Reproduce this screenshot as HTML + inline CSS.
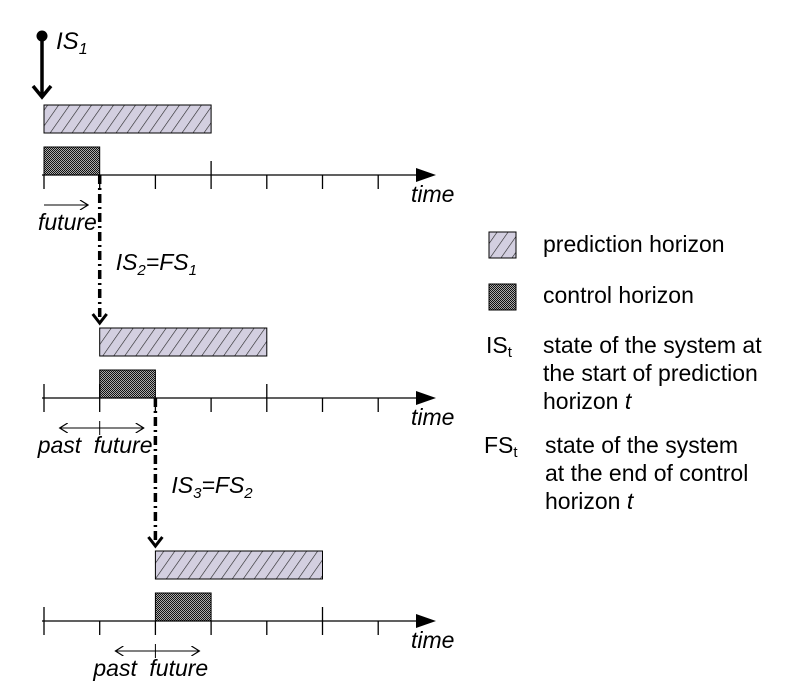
<!DOCTYPE html>
<html><head><meta charset="utf-8"><style>
body{margin:0;background:#fff}
svg{display:block;font-family:"Liberation Sans",sans-serif}
</style></head><body>
<svg width="801" height="697" viewBox="0 0 801 697">
<defs>
<pattern id="hatch" width="9" height="9" patternUnits="userSpaceOnUse" patternTransform="rotate(35)">
<rect width="9" height="9" fill="#d3cfe0"/><line x1="0" y1="0" x2="0" y2="9" stroke="#222" stroke-width="1.2"/>
</pattern>
<pattern id="check" width="2" height="2" patternUnits="userSpaceOnUse">
<rect width="2" height="2" fill="#aaa"/><rect width="1" height="1" fill="#111"/><rect x="1" y="1" width="1" height="1" fill="#111"/>
</pattern>
<marker id="arr" markerWidth="10" markerHeight="10" refX="9" refY="5" orient="auto" markerUnits="userSpaceOnUse">
<path d="M1,0 L9,5 L1,10" fill="none" stroke="#000" stroke-width="1.2"/></marker>
</defs>
<g id="diagram"></g>
<g font-size="23" fill="#000">
<rect x="489" y="232" width="27" height="26" fill="url(#hatch)" stroke="#000"/>
<text x="543" y="252">prediction horizon</text>
<rect x="489" y="284" width="27" height="26" fill="url(#check)" stroke="#000"/>
<text x="543" y="303">control horizon</text>
<text x="486" y="353">IS<tspan font-size="15" dy="4">t</tspan></text>
<text x="543" y="353">state of the system at</text>
<text x="543" y="381">the start of prediction</text>
<text x="543" y="409">horizon <tspan font-style="italic">t</tspan></text>
<text x="484" y="453">FS<tspan font-size="15" dy="4">t</tspan></text>
<text x="545" y="453">state of the system</text>
<text x="545" y="481">at the end of control</text>
<text x="545" y="509">horizon <tspan font-style="italic">t</tspan></text>
</g>
</svg>
<script>
const stepIndex=[0,1,2];
const predStart=[0,1,2];
const predLen=[3,3,3];
const ctrlLen=[1,1,1];
const tickCount=7;
const NS="http://www.w3.org/2000/svg";
const g=document.getElementById('diagram');
const x0=44, dx=55.7, axisY=[175,398,621];
const X=t=>x0+t*dx;
const FS=23;
function el(tag,attrs,parent){const e=document.createElementNS(NS,tag);for(const k in attrs)e.setAttribute(k,attrs[k]);(parent||g).appendChild(e);return e;}
const c=el('circle',{cx:42,cy:36,r:5.5,fill:'#000'});


const a0=el('path',{d:'M42,36 L42,95 M33,86 L42,97 L51,86',stroke:'#000','stroke-width':3.5,fill:'none'});


const t0=el('text',{x:56,y:49,'font-size':24,'font-style':'italic'});
t0.innerHTML='IS<tspan font-size="16" dy="5">1</tspan>';


stepIndex.forEach((s,i)=>{
  const ay=axisY[i];
  const ps=predStart[i], pe=ps+predLen[i], ce=ps+ctrlLen[i];
  const pr=el('rect',{x:X(ps),y:ay-70,width:X(pe)-X(ps),height:28,fill:'url(#hatch)',stroke:'#000','stroke-width':1});
  
  
  const cr=el('rect',{x:X(ps),y:ay-28,width:X(ce)-X(ps),height:28,fill:'url(#check)',stroke:'#000','stroke-width':1});
  
  
  const ax=el('line',{x1:X(0)-2,y1:ay,x2:418,y2:ay,stroke:'#000','stroke-width':1.3});
  
  
  el('path',{d:`M416,${ay-7} L436,${ay} L416,${ay+7}Z`,fill:'#000'});
  for(let k=0;k<tickCount;k++){
    const tall=(k===pe)||(i>0&&k===0)||(i===1&&k===1);
    const tk=el('line',{x1:X(k),y1:tall?ay-14:ay,x2:X(k),y2:ay+14,stroke:'#000','stroke-width':1.3});
    
    
  }
  const tt=el('text',{x:411,y:ay+27,'font-size':FS,'font-style':'italic'});
  tt.textContent='time';
  
  
  const fy=ay+30;
  el('line',{x1:X(ps),y1:fy,x2:X(ps)+44,y2:fy,stroke:'#000','stroke-width':1,'marker-end':'url(#arr)'});
  if(i>0){
    el('line',{x1:X(ps),y1:fy,x2:X(ps)-40,y2:fy,stroke:'#000','stroke-width':1,'marker-end':'url(#arr)'});
    el('line',{x1:X(ps),y1:fy-7,x2:X(ps),y2:fy+7,stroke:'#000','stroke-width':1});
    const p=el('text',{x:X(ps)-62,y:ay+55,'font-size':FS,'font-style':'italic'});
    p.textContent='past';
    
    
  }
  const f=el('text',{x:X(ps)-6,y:ay+55,'font-size':FS,'font-style':'italic'});
  f.textContent='future';
  
  
  if(i<stepIndex.length-1){
    const lx=X(ce);
    const dl=el('line',{x1:lx,y1:ay,x2:lx,y2:axisY[i+1]-78,stroke:'#000','stroke-width':3.5,'stroke-dasharray':'9,4,2,4'});
    
    
    el('path',{d:`M${lx-7},${axisY[i+1]-84} L${lx},${axisY[i+1]-75} L${lx+7},${axisY[i+1]-84}`,stroke:'#000','stroke-width':3,fill:'none'});
    const lt=el('text',{x:lx+16,y:ay+95,'font-size':FS,'font-style':'italic'});
    lt.innerHTML=`IS<tspan font-size="15" dy="5">${i+2}</tspan><tspan dy="-5">=FS</tspan><tspan font-size="15" dy="5">${i+1}</tspan>`;
    
    
  }
});
</script>
</body></html>
